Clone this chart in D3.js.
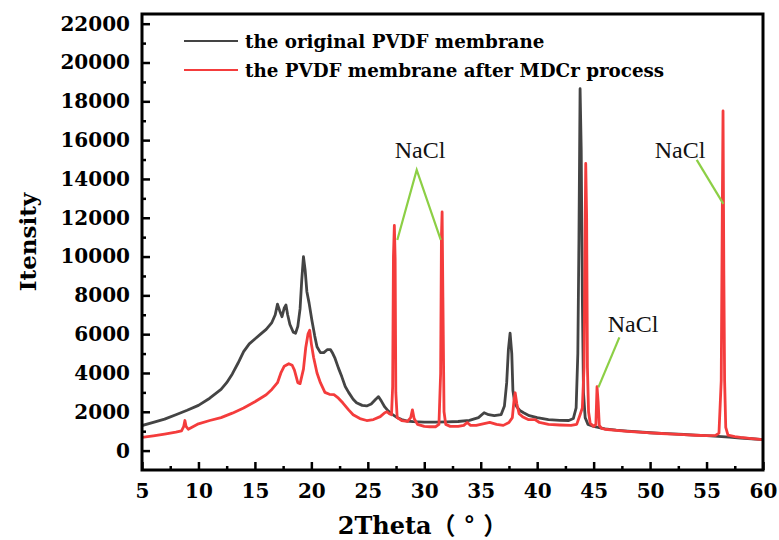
<!DOCTYPE html>
<html>
<head>
<meta charset="utf-8">
<script src="https://cdn.jsdelivr.net/npm/d3@7/dist/d3.min.js"></script>
<style>
  html, body { margin: 0; padding: 0; background: #fff; }
  svg { display: block; }
</style>
</head>
<body>
<svg id="chart" width="779" height="540"></svg>
<script>
// XRD patterns: 2θ (degrees) and diffraction intensity (counts)
const originalTheta = [
  5.0, 6.0, 7.0, 8.0, 9.0, 10.0, 11.0, 12.0, 12.5, 13.0, 13.5, 14.0, 14.5, 15.0, 15.5, 16.0,
  16.5, 16.8, 17.0, 17.2, 17.4, 17.6, 17.75, 17.9, 18.1, 18.4, 18.6, 18.8, 19.0, 19.15, 19.3,
  19.45, 19.6, 19.8, 20.05, 20.3, 20.5, 20.8, 21.1, 21.4, 21.7, 21.9, 22.1, 22.4, 22.7, 23.0,
  23.3, 23.7, 24.0, 24.5, 24.9, 25.3, 25.7, 25.95, 26.2, 26.5, 26.8, 27.2, 27.6, 28.0, 28.5,
  29.0, 30.0, 31.0, 32.0, 33.0, 34.0, 34.8, 35.3, 35.7, 36.2, 36.8, 37.1, 37.3, 37.45, 37.6,
  37.75, 37.85, 38.0, 38.2, 38.5, 38.8, 39.3, 40.0, 41.0, 42.0, 42.8, 43.2, 43.45, 43.6, 43.7,
  43.8, 43.9, 44.0, 44.1, 44.25, 44.5, 45.0, 46.0, 47.0, 48.0, 49.0, 50.0, 51.0, 52.0, 53.0,
  54.0, 55.0, 56.0, 57.0, 58.0, 59.0, 60.0
];
const originalIntensity = [
  1290, 1450, 1620, 1850, 2080, 2330, 2700, 3150, 3500, 3950, 4500, 5100, 5500, 5750, 6000, 6250,
  6600, 7000, 7550, 7200, 6900, 7350, 7500, 7000, 6500, 6100, 6050, 6400, 7300, 8800, 10000,
  9300, 8200, 7600, 6700, 5900, 5350, 5050, 5050, 5200, 5200, 5000, 4750, 4250, 3800, 3300,
  3000, 2650, 2470, 2330, 2300, 2400, 2650, 2780, 2550, 2250, 2050, 1850, 1700, 1600, 1520,
  1490, 1470, 1470, 1480, 1500, 1560, 1700, 1950, 1850, 1800, 1850, 2300, 3500, 5200, 6050,
  5000, 3100, 2500, 2250, 2050, 1950, 1800, 1700, 1600, 1560, 1550, 1650, 2200, 5000, 11000,
  18650, 15500, 7900, 3000, 1700, 1350, 1250, 1120, 1050, 1000, 960, 920, 890, 860, 830,
  800, 770, 730, 690, 650, 610, 570
];

const mdcrTheta = [
  5.0, 6.0, 7.0, 8.0, 8.5, 8.7, 8.8, 8.9, 9.1, 10.0, 11.0, 12.0, 13.0, 14.0, 15.0, 16.0, 16.5,
  17.0, 17.3, 17.6, 18.0, 18.3, 18.5, 18.8, 19.0, 19.3, 19.5, 19.7, 19.85, 20.0, 20.2, 20.5,
  20.8, 21.2, 21.6, 22.0, 22.4, 22.8, 23.3, 23.7, 24.3, 24.9, 25.5, 26.1, 26.5, 26.7, 26.9,
  27.1, 27.2, 27.27, 27.35, 27.42, 27.48, 27.6, 28.0, 28.5, 28.8, 28.95, 29.1, 29.4, 30.0,
  30.5, 31.0, 31.3, 31.45, 31.52, 31.58, 31.65, 31.75, 31.9, 32.3, 33.0, 33.5, 33.8, 34.1,
  34.6, 35.0, 35.8, 36.4, 37.0, 37.5, 37.8, 37.95, 38.05, 38.2, 38.4, 38.7, 39.2, 39.8, 40.2,
  41.0, 42.0, 43.0, 43.5, 43.8, 44.0, 44.15, 44.22, 44.3, 44.38, 44.45, 44.55, 44.7, 45.0,
  45.2, 45.3, 45.4, 45.5, 45.7, 46.0, 47.0, 48.0, 49.0, 50.0, 51.0, 52.0, 53.0, 54.0, 55.0,
  55.8, 56.1, 56.3, 56.4, 56.46, 56.53, 56.6, 56.7, 56.9, 57.5, 58.0, 59.0, 60.0
];
const mdcrIntensity = [
  680, 760, 850, 950, 1020, 1250, 1550, 1250, 1100, 1380, 1550, 1700, 1930, 2200, 2520, 2880, 3150,
  3500, 4000, 4350, 4480, 4400, 4150, 3500, 3450, 4200, 5300, 6000, 6200, 5500, 4800, 4000,
  3500, 3000, 2900, 2880, 2700, 2450, 2100, 1850, 1650, 1550, 1600, 1750, 1950, 2000, 1900,
  1850, 3300, 10000, 11600, 9900, 3000, 1700, 1550, 1500, 1700, 2100, 1650, 1350, 1250,
  1230, 1230, 1350, 4000, 11000, 12300, 7900, 2000, 1350, 1250, 1250, 1300, 1450, 1300,
  1300, 1350, 1450, 1350, 1300, 1450, 1700, 2600, 2980, 2400, 1900, 1750, 1600, 1600, 1450,
  1350, 1320, 1300, 1350, 1850, 2200, 4300, 9700, 14800, 12000, 4300, 2000, 1400, 1250,
  1350, 3290, 2500, 1300, 1150, 1100, 1040, 990, 950, 910, 880, 850, 820, 790, 770,
  780, 900, 3600, 12700, 17500, 9300, 3600, 1200, 800, 720, 680, 620, 560
];

const seriesNames = ["the original PVDF membrane", "the PVDF membrane after MDCr process"];
const seriesColors = ["#444444", "#f43c3c"];

const xTicks = [5, 10, 15, 20, 25, 30, 35, 40, 45, 50, 55, 60];
const xMinorTicks = [7.5, 12.5, 17.5, 22.5, 27.5, 32.5, 37.5, 42.5, 47.5, 52.5, 57.5];
const yTicks = [0, 2000, 4000, 6000, 8000, 10000, 12000, 14000, 16000, 18000, 20000, 22000];
const yMinorTicks = [1000, 3000, 5000, 7000, 9000, 11000, 13000, 15000, 17000, 19000, 21000];

// NaCl reflections: label anchor and pointer segments, in (2θ, intensity)
const naclLabels = [
  { text: "NaCl", theta: 29.62, value: 15085 },
  { text: "NaCl", theta: 48.49, value: 6110 },
  { text: "NaCl", theta: 52.65, value: 15085 }
];
const naclPointers = [
  [[27.61, 10855], [29.33, 14465], [31.46, 10855]],
  [[47.28, 5838], [45.42, 3259]],
  [[54.13, 14981], [56.49, 12712]]
];

const W = 779, H = 540;
const margin = { left: 142, right: 16, top: 14, bottom: 70 };
const svg = d3.select("#chart");

const x = d3.scaleLinear().domain([5, 60]).range([margin.left, W - margin.right]);
const y = d3.scaleLinear().domain([-1000, 22500]).range([H - margin.bottom, margin.top]);

const serifFont = "'DejaVu Serif', 'Liberation Serif', serif";

// Curves
const line = d3.line().x(d => x(d[0])).y(d => y(d[1]));
const series = [
  d3.zip(originalTheta, originalIntensity),
  d3.zip(mdcrTheta, mdcrIntensity)
];
const plot = svg.append("g");
plot.append("defs").append("clipPath").attr("id", "clip")
  .append("rect")
  .attr("x", margin.left).attr("y", margin.top)
  .attr("width", W - margin.left - margin.right)
  .attr("height", H - margin.top - margin.bottom);
const curves = plot.append("g").attr("clip-path", "url(#clip)");
series.forEach((s, i) => {
  curves.append("path")
    .datum(s)
    .attr("fill", "none")
    .attr("stroke", seriesColors[i])
    .attr("stroke-width", 2.8)
    .attr("stroke-linejoin", "round")
    .attr("d", line);
});

// Axes with inward ticks
const xAxis = svg.append("g")
  .attr("transform", `translate(0,${H - margin.bottom})`)
  .call(d3.axisBottom(x).tickValues(xTicks).tickSize(-8).tickPadding(14).tickFormat(d3.format("d")));
const xMinor = svg.append("g")
  .attr("transform", `translate(0,${H - margin.bottom})`)
  .call(d3.axisBottom(x).tickValues(xMinorTicks).tickSize(-4).tickFormat(""));
const yAxis = svg.append("g")
  .attr("transform", `translate(${margin.left},0)`)
  .call(d3.axisLeft(y).tickValues(yTicks).tickSize(-8).tickPadding(12).tickFormat(d3.format("d")));
const yMinor = svg.append("g")
  .attr("transform", `translate(${margin.left},0)`)
  .call(d3.axisLeft(y).tickValues(yMinorTicks).tickSize(-4).tickFormat(""));

[xAxis, xMinor, yAxis, yMinor].forEach(g => {
  g.select(".domain").remove();
  g.selectAll(".tick line").attr("stroke", "#000").attr("stroke-width", 2.5);
  g.selectAll(".tick text")
    .attr("fill", "#000")
    .style("font-family", serifFont)
    .style("font-weight", "bold")
    .style("font-size", "20px");
});

// Frame
svg.append("rect")
  .attr("x", margin.left).attr("y", margin.top)
  .attr("width", W - margin.left - margin.right)
  .attr("height", H - margin.top - margin.bottom)
  .attr("fill", "none").attr("stroke", "#000").attr("stroke-width", 3);

// Axis titles
const xTitle = svg.append("text")
  .attr("x", 427)
  .attr("y", 534)
  .attr("text-anchor", "middle")
  .style("font-weight", "bold")
  .style("font-size", "24px");
xTitle.append("tspan").style("font-family", serifFont).text("2Theta");
xTitle.append("tspan")
  .style("font-family", "'Noto Sans CJK SC', sans-serif")
  .style("letter-spacing", "9px")
  .text("（°）");

svg.append("text")
  .attr("transform", `translate(36,${(margin.top + H - margin.bottom) / 2}) rotate(-90)`)
  .attr("text-anchor", "middle")
  .style("font-family", serifFont)
  .style("font-weight", "bold")
  .style("font-size", "23px")
  .text("Itensity");

// Legend
const legend = svg.append("g");
seriesNames.forEach((name, i) => {
  const ly = 41 + i * 29;
  legend.append("line")
    .attr("x1", 184).attr("x2", 238).attr("y1", ly).attr("y2", ly)
    .attr("stroke", seriesColors[i]).attr("stroke-width", 2);
  legend.append("text")
    .attr("x", 245).attr("y", ly + 7)
    .style("font-family", serifFont)
    .style("font-weight", "bold")
    .style("font-size", "18.3px")
    .text(name);
});

// NaCl annotations
const ann = svg.append("g");
naclPointers.forEach(pts => {
  ann.append("path")
    .attr("d", d3.line().x(d => x(d[0])).y(d => y(d[1]))(pts))
    .attr("fill", "none")
    .attr("stroke", "#8ccf45")
    .attr("stroke-width", 2.2);
});
naclLabels.forEach(l => {
  ann.append("text")
    .attr("x", x(l.theta)).attr("y", y(l.value))
    .attr("text-anchor", "middle")
    .style("font-family", "'Liberation Serif', 'Times New Roman', serif")
    .style("font-size", "24px")
    .attr("fill", "#111")
    .text(l.text);
});
</script>
</body>
</html>
